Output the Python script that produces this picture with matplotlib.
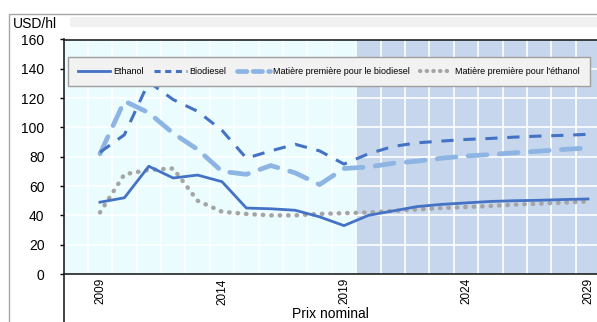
import matplotlib
matplotlib.use("Agg")
import matplotlib.pyplot as plt
from matplotlib.lines import Line2D
from matplotlib.patches import Rectangle

# values (USD/hl, nominal prices)
years = list(range(2009, 2030))
ethanol = [49, 52, 73.5, 65.5, 67.5, 63, 45, 44.5, 43.5, 39, 33,
           40, 43, 46, 47.5, 48.5, 49.5, 50, 50.3, 50.8, 51.2]
biodiesel = [83, 95, 131, 119, 111, 98, 79, 84, 88.5, 84, 75,
             82, 87, 89.5, 90.7, 91.8, 92.5, 93.4, 94.1, 94.6, 95.3]
feed_biodiesel = [82, 118, 110, 96, 85, 70, 68, 74, 69, 61, 72,
                  73, 75.5, 77, 79, 80.5, 81.5, 82.7, 83.8, 85, 86]
feed_ethanol = [42, 68, 71, 72, 50, 42.5, 41, 40, 40, 41, 41.5,
                42, 43, 44, 45, 45.7, 46.4, 47.3, 48, 48.7, 49.5]

labels = ["Ethanol", "Biodiesel", "Matière première pour le biodiesel",
          "Matière première pour l'éthanol"]
xticks = [2009, 2014, 2019, 2024, 2029]
yticks = [0, 20, 40, 60, 80, 100, 120, 140, 160]
projection_start = 2019.5

W, H = 597, 322
plt.rcParams["font.family"] = ["Liberation Sans", "DejaVu Sans"]

fig = plt.figure(figsize=(W / 100, H / 100), dpi=100)

# outer frame and the grey band above the plot
fig.add_artist(Rectangle((9 / W, -0.1), 1.1, 1 - 14 / H + 0.1, transform=fig.transFigure,
                         facecolor="white", edgecolor="#a6a6a6", linewidth=1, zorder=0))
fig.add_artist(Rectangle((70 / W, 1 - 27 / H), 1, 10 / H, transform=fig.transFigure,
                         facecolor="#f1f1f1", edgecolor="none", zorder=0.5))

ax = fig.add_axes([64 / W, 1 - 274 / H, 1 - 64 / W, (274 - 39.5) / H])
ax.set_xlim(2007.525, 2029.37)
ax.set_ylim(0, 160)

ax.axvspan(2007.525, projection_start, color="#ebfcff", zorder=0)
ax.axvspan(projection_start, 2029.37, color="#c6d6ec", zorder=0)
for x in range(2008, 2029):
    ax.axvline(x + 0.5, color="white", linewidth=1.2, zorder=0.5)
for y in yticks[1:-1]:
    ax.axhline(y, color="white", linewidth=1.2, zorder=0.5)

ax.plot(years, ethanol, color="#4472c4", linewidth=2.0, zorder=3)
ax.plot(years, biodiesel, color="#4472c4", linewidth=2.2, dashes=(4, 3.2), zorder=3)
ax.plot(years, feed_biodiesel, color="#8db4e3", linewidth=3.4, dashes=(4, 2.6),
        dash_capstyle="round", zorder=2)
ax.plot(years, feed_ethanol, color="#a5a5a5", linewidth=3.2, dashes=(0.1, 1.8),
        dash_capstyle="round", zorder=2)

ax.set_yticks(yticks)
ax.set_xticks(xticks)
ax.set_xticklabels([str(y) for y in xticks], rotation=90, fontsize=8.5)
ax.tick_params(axis="y", length=3, width=1, pad=11, labelsize=10)
ax.tick_params(axis="x", length=0, pad=3)
for side in ["top", "left", "bottom"]:
    ax.spines[side].set_color("#222222")
    ax.spines[side].set_linewidth(1.2)
ax.spines["right"].set_visible(False)

# left axis line keeps going below the plot
fig.add_artist(Line2D([64 / W, 64 / W], [0, 1 - 274 / H], transform=fig.transFigure,
                      color="#222222", linewidth=1.2))

fig.text(13 / W, 1 - 24 / H, "USD/hl", fontsize=10, va="center", ha="left")
fig.text(330 / W, 1 - 314 / H, "Prix nominal", fontsize=10, va="center", ha="center")

handles = [
    Line2D([], [], color="#4472c4", linewidth=2.0),
    Line2D([], [], color="#4472c4", linewidth=2.2, dashes=(2, 1.5)),
    Line2D([], [], color="#8db4e3", linewidth=3.4, dashes=(2, 1.3), dash_capstyle="round"),
    Line2D([], [], color="#a5a5a5", linewidth=3, dashes=(0.1, 1.5), dash_capstyle="round"),
]
leg = ax.legend(handles, labels, ncol=4, loc="upper left", bbox_to_anchor=(0.0075, 0.925),
                fontsize=6.5, handlelength=3.6, handletextpad=0.3, columnspacing=1.2,
                borderpad=1.1, borderaxespad=0, fancybox=False, framealpha=1,
                facecolor="#f2f2f2", edgecolor="#a0a0a0")
leg.get_frame().set_linewidth(1)

fig.savefig("out.png", dpi=100)
